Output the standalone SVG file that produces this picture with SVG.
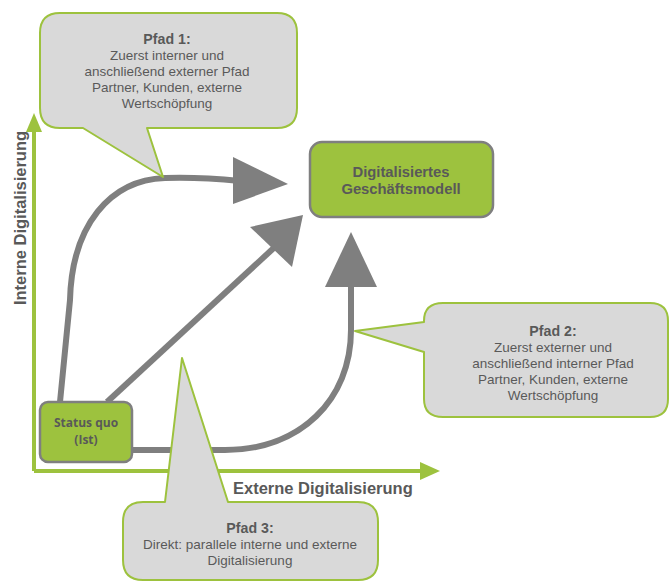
<svg xmlns="http://www.w3.org/2000/svg" width="669" height="583" viewBox="0 0 669 583">
  <style>
    .axis { stroke: #9dc23e; stroke-width: 4; fill: none; }
    .axis-head { fill: #9dc23e; }
    .axis-label { font-family: "Liberation Sans", Arial, sans-serif; font-weight: bold; font-size: 16.5px; fill: #595959; }
    .path { stroke: #7f7f7f; stroke-width: 6; fill: none; }
    .head { fill: #7f7f7f; }
    .box { fill: #9dc23e; stroke: #7f7f7f; stroke-width: 2.5; }
    .box-text { font-family: "Liberation Sans", Arial, sans-serif; font-weight: bold; font-size: 14.8px; fill: #595959; text-anchor: middle; }
    .box-small { font-family: "Open Sans", "Liberation Sans", sans-serif; font-weight: bold; font-size: 12px; fill: #595959; text-anchor: middle; }
    .callout { fill: #d9d9d9; stroke: #9dc23e; stroke-width: 2; stroke-linejoin: round; }
    .c-title { font-family: "Liberation Sans", Arial, sans-serif; font-weight: bold; font-size: 14.2px; fill: #595959; text-anchor: middle; }
    .c-text { font-family: "Liberation Sans", Arial, sans-serif; font-size: 13.5px; fill: #595959; text-anchor: middle; }
  </style>

  <rect width="669" height="583" fill="#ffffff"/>

  <!-- axes -->
  <g id="axes">
    <path class="axis" d="M34,471 L34,130 M34,471 L424,471"/>
    <polygon class="axis-head" points="34,113 26,132 42,132"/>
    <polygon class="axis-head" points="440,471 420,462 420,480"/>
    <text class="axis-label" x="233" y="494">Externe Digitalisierung</text>
    <text class="axis-label" x="0" y="0" text-anchor="middle" transform="translate(26,218) rotate(-90)">Interne Digitalisierung</text>
  </g>

  <!-- connectors -->
  <g id="connectors">
    <!-- Pfad 1: first up, then right -->
    <path class="path" d="M60,402 L70,300 C72,225 110,180 165,178 C195,177 220,179 240,181"/>
    <polygon class="head" points="288,184 233,157 233,204"/>
    <!-- Pfad 3: direct diagonal -->
    <path class="path" d="M107,402 L277,245"/>
    <polygon class="head" points="303,215 250,227 292,267"/>
    <!-- Pfad 2: first right, then up -->
    <path class="path" d="M132,450 L225,450 C300,450 351,400 351,330 L351,285"/>
    <polygon class="head" points="351,232 325,287 377,287"/>
  </g>

  <!-- nodes -->
  <g id="node-status">
    <rect class="box" x="40" y="402" width="92" height="60" rx="8"/>
    <text class="box-small" x="86" y="427">Status quo</text>
    <text class="box-small" x="86" y="444">(Ist)</text>
  </g>

  <g id="node-target">
    <rect class="box" x="310" y="142" width="183" height="75" rx="12"/>
    <text class="box-text" x="401" y="177">Digitalisiertes</text>
    <text class="box-text" x="401" y="194">Geschäftsmodell</text>
  </g>

  <!-- callouts -->
  <g id="callout-1">
    <path class="callout" d="M60,13 H277 Q297,13 297,33 V108 Q297,128 277,128 H147 L163,177 L83,128 H60 Q40,128 40,108 V33 Q40,13 60,13 Z"/>
    <text class="c-title" x="167" y="44">Pfad 1:</text>
    <text class="c-text" x="167" y="60">Zuerst interner und</text>
    <text class="c-text" x="167" y="76">anschließend externer Pfad</text>
    <text class="c-text" x="167" y="92">Partner, Kunden, externe</text>
    <text class="c-text" x="167" y="108">Wertschöpfung</text>
  </g>

  <g id="callout-2">
    <path class="callout" d="M443,303 H650 Q668,303 668,321 V399 Q668,417 650,417 H443 Q424,417 424,399 V352 L355,331 L424,322 V321 Q424,303 443,303 Z"/>
    <text class="c-title" x="553" y="336">Pfad 2:</text>
    <text class="c-text" x="553" y="352">Zuerst externer und</text>
    <text class="c-text" x="553" y="368">anschließend interner Pfad</text>
    <text class="c-text" x="553" y="384">Partner, Kunden, externe</text>
    <text class="c-text" x="553" y="400">Wertschöpfung</text>
  </g>

  <g id="callout-3">
    <path class="callout" d="M143,502 H165 L182,358 L228,502 H358 Q378,502 378,522 V560 Q378,580 358,580 H143 Q123,580 123,560 V522 Q123,502 143,502 Z"/>
    <text class="c-title" x="250" y="533">Pfad 3:</text>
    <text class="c-text" x="250" y="549">Direkt: parallele interne und externe</text>
    <text class="c-text" x="250" y="565">Digitalisierung</text>
  </g>
</svg>
